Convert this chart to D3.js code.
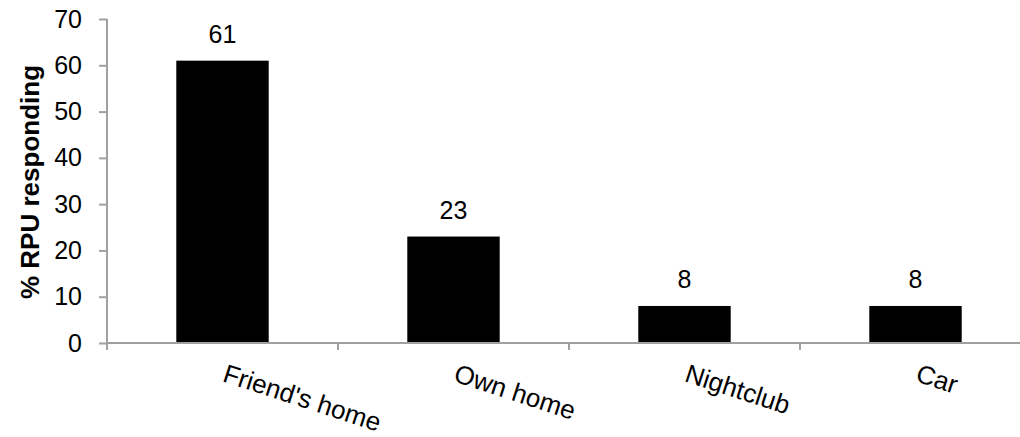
<!DOCTYPE html>
<html>
<head>
<meta charset="utf-8">
<script src="https://cdn.jsdelivr.net/npm/d3@7"></script>
<style>
  html, body { margin: 0; padding: 0; background: #fff; }
  svg { display: block; font-family: Arial, "Liberation Sans", sans-serif; }
</style>
</head>
<body>
<svg id="chart" width="1020" height="437"></svg>
<script>
// Where recent drug use took place
const categories = ["Friend's home", "Own home", "Nightclub", "Car"];
const percentages = [61, 23, 8, 8];
const yTicks = [0, 10, 20, 30, 40, 50, 60, 70];
const yTitle = "% RPU responding";

const svg = d3.select("#chart");
const axisColor = "#a0a0a0";

const plotLeft = 107, plotTop = 19, plotBottom = 343;
const step = 231;

const x = d3.scaleBand()
  .domain(categories)
  .range([plotLeft, plotLeft + step * categories.length])
  .paddingInner(0.6)
  .paddingOuter(0.3);

const y = d3.scaleLinear().domain([0, 70]).range([plotBottom, plotTop]);

// bars
svg.append("g").selectAll("rect")
  .data(categories)
  .join("rect")
  .attr("x", d => x(d))
  .attr("width", x.bandwidth())
  .attr("y", (d, i) => y(percentages[i]))
  .attr("height", (d, i) => y(0) - y(percentages[i]))
  .attr("fill", "#000");

// value labels
svg.append("g").selectAll("text")
  .data(categories)
  .join("text")
  .attr("x", d => x(d) + x.bandwidth() / 2)
  .attr("y", (d, i) => y(percentages[i]) - 18)
  .attr("text-anchor", "middle")
  .attr("font-size", 25)
  .attr("fill", "#000")
  .text((d, i) => percentages[i]);

// y axis
const yAxis = svg.append("g")
  .attr("transform", `translate(${plotLeft},0)`)
  .call(d3.axisLeft(y).tickValues(yTicks).tickSize(8).tickPadding(17));
yAxis.select(".domain").attr("stroke", axisColor).attr("stroke-width", 2)
  .attr("d", `M0,${plotTop}V${plotBottom}`);
yAxis.selectAll(".tick line").attr("stroke", axisColor).attr("stroke-width", 2);
yAxis.selectAll(".tick text").attr("font-size", 25).attr("fill", "#000")
  .attr("font-family", "Arial, 'Liberation Sans', sans-serif");

// x axis with ticks at band boundaries
const xg = svg.append("g");
xg.append("line")
  .attr("x1", plotLeft).attr("x2", 1020)
  .attr("y1", plotBottom).attr("y2", plotBottom)
  .attr("stroke", axisColor).attr("stroke-width", 2);
const boundaries = categories.map(d => x(d) - x.step() * x.paddingOuter());
xg.selectAll("line.tk")
  .data(boundaries)
  .join("line")
  .attr("class", "tk")
  .attr("x1", d => d).attr("x2", d => d)
  .attr("y1", plotBottom).attr("y2", plotBottom + 7)
  .attr("stroke", axisColor).attr("stroke-width", 2);

// rotated category labels
xg.selectAll("text")
  .data(categories)
  .join("text")
  .attr("transform", d => `translate(${x(d) + x.bandwidth() / 2 - 1},${plotBottom + 38}) rotate(18)`)
  .attr("text-anchor", "start")
  .attr("font-size", 26)
  .attr("fill", "#000")
  .text(d => d);

// y axis title
svg.append("text")
  .attr("transform", `translate(39,182) rotate(-90)`)
  .attr("text-anchor", "middle")
  .attr("font-size", 26)
  .attr("font-weight", "bold")
  .attr("fill", "#000")
  .text(yTitle);
</script>
</body>
</html>
